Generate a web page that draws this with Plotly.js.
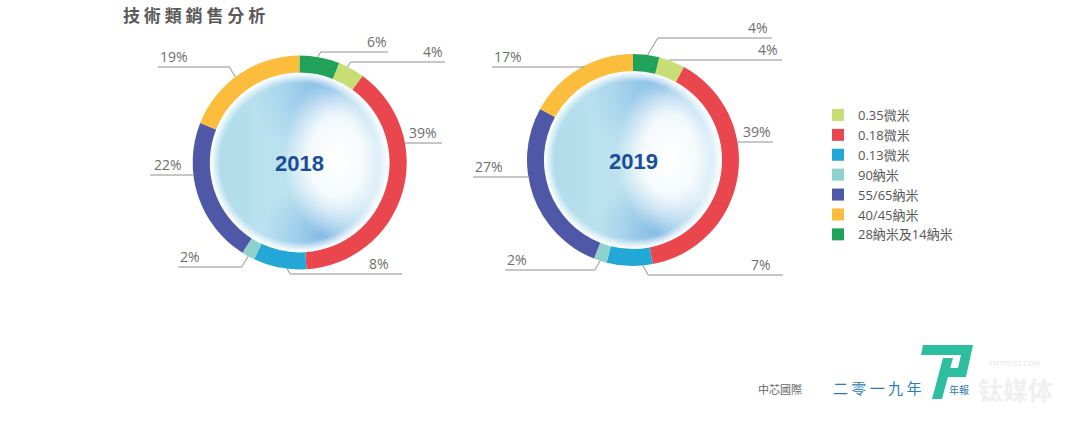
<!DOCTYPE html>
<html><head><meta charset="utf-8">
<script src="https://cdn.plot.ly/plotly-3.0.1.min.js"></script>
<style>html,body{margin:0;padding:0;background:#fff}#chart{width:1080px;height:424px}</style>
</head><body><div id="chart"></div>
<script>
// ---------- data ----------
const categories = ['0.35微米','0.18微米','0.13微米','90納米','55/65納米','40/45納米','28納米及14納米'];
const years = ['2018','2019'];
const share2018 = [4, 39, 8, 2, 22, 19, 6];
const share2019 = [4, 39, 7, 2, 27, 17, 4];

// ---------- style ----------
const sliceColors = ['#c6de74','#e9464d','#22a7d6','#8dd2cd','#4e58a7','#fbbd3b','#20a25b'];
const W = 1080, H = 424;
const HOLE = 0.84;
const px = x => x / W;
const py = y => 1 - y / H;

// label placement (per category, aligned with categories)
const pieLayouts = [
  { cx: 299.7, cy: 162.5, r: 107,
    side:    [1, 1, 1, -1, -1, -1, 1],
    lineY:   [62, 143, 274, 267, 175, 67, 52],
    lineEnd: [445, 442, 402, 178, 150, 158, 388],
    textX:   [445, 439, 391, 178, 152, 158, 389],
    at:      [0.35, 0.31, 0.36, 0.5, 0.64, 0.46, 0.45] },
  { cx: 633, cy: 160, r: 106,
    side:    [1, 1, 1, -1, -1, -1, 1],
    lineY:   [60, 142, 275, 270, 177, 67, 38],
    lineEnd: [782, 773, 783, 505, 473, 492, 772],
    textX:   [780, 773, 773, 505, 473, 492, 770],
    at:      [0.38, 0.37, 0.22, 0.5, 0.61, 0.55, 0.55] }
];
const seriesByYear = [share2018, share2019];

const data = [], shapes = [], annotations = [], images = [];

const sphereSvg =
 "<svg xmlns='http://www.w3.org/2000/svg' width='200' height='200' viewBox='0 0 200 200'>" +
 "<defs>" +
 "<linearGradient id='b' x1='0' y1='0' x2='1' y2='0'><stop offset='0' stop-color='#aedbea'/><stop offset='0.45' stop-color='#bfe3f0'/><stop offset='1' stop-color='#d3eaf6'/></linearGradient>" +
 "<radialGradient id='h' cx='0.7' cy='0.47' r='0.36' gradientTransform='translate(0.7 0.47) scale(0.8 1.25) translate(-0.7 -0.47)'><stop offset='0' stop-color='#ffffff'/><stop offset='0.5' stop-color='#ffffff' stop-opacity='0.85'/><stop offset='1' stop-color='#ffffff' stop-opacity='0'/></radialGradient>" +
 "<radialGradient id='t' cx='0.66' cy='0.1' r='0.42'><stop offset='0' stop-color='#5fa6e0' stop-opacity='0.75'/><stop offset='0.5' stop-color='#77b4e4' stop-opacity='0.4'/><stop offset='1' stop-color='#8cc1e8' stop-opacity='0'/></radialGradient>" +
 "<radialGradient id='d' cx='0.62' cy='0.9' r='0.32'><stop offset='0' stop-color='#5aa0dd' stop-opacity='0.6'/><stop offset='1' stop-color='#6aaae0' stop-opacity='0'/></radialGradient>" +
 "<radialGradient id='w' cx='0.5' cy='0.5' r='0.5'><stop offset='0.88' stop-color='#ffffff' stop-opacity='0'/><stop offset='0.97' stop-color='#ffffff' stop-opacity='0.85'/><stop offset='1' stop-color='#ffffff' stop-opacity='1'/></radialGradient>" +
 "<clipPath id='c'><circle cx='100' cy='100' r='100'/></clipPath>" +
 "</defs><g clip-path='url(#c)'>" +
 "<rect width='200' height='200' fill='url(#b)'/>" +
 "<rect width='200' height='200' fill='url(#t)'/>" +
 "<rect width='200' height='200' fill='url(#d)'/>" +
 "<rect width='200' height='200' fill='url(#h)'/>" +
 "<rect width='200' height='200' fill='url(#w)'/>" +
 "</g></svg>";
const sphereUri = 'data:image/svg+xml;charset=utf-8,' + encodeURIComponent(sphereSvg);

pieLayouts.forEach((g, k) => {
  const vals = seriesByYear[k];
  const total = vals.reduce((a, b) => a + b, 0);
  const last = vals[vals.length - 1];
  const rotation = 360 * last / total;   // last category starts at 12 o'clock
  data.push({
    type: 'pie', name: years[k], labels: categories, values: vals,
    sort: false, direction: 'clockwise', rotation: rotation, hole: HOLE,
    marker: { colors: sliceColors, line: { width: 0 } },
    textinfo: 'none', hoverinfo: 'label+value',
    showlegend: k === 0,
    domain: { x: [px(g.cx - g.r), px(g.cx + g.r)], y: [py(g.cy + g.r), py(g.cy - g.r)] }
  });

  const ri = g.r * HOLE + 0.5;
  images.push({ source: sphereUri, xref: 'paper', yref: 'paper',
    x: px(g.cx - ri), y: py(g.cy - ri), sizex: 2 * ri / W, sizey: 2 * ri / H,
    xanchor: 'left', yanchor: 'top', sizing: 'stretch', layer: 'below' });

  annotations.push({ text: '<b>' + years[k] + '</b>', x: px(g.cx), y: py(g.cy + 1),
    xref: 'paper', yref: 'paper', showarrow: false, xanchor: 'center', yanchor: 'middle',
    font: { family: 'Liberation Sans Narrow, Arial Narrow, Liberation Sans, sans-serif', size: 22, color: '#1b4e98' } });

  let cum = 0;
  vals.forEach((v, i) => {
    const startDeg = rotation + 360 * cum / total;
    const endDeg = startDeg + 360 * v / total;
    cum += v;
    const a = (startDeg + g.at[i] * (endDeg - startDeg)) * Math.PI / 180;
    const ax = g.cx + g.r * Math.sin(a), ay = g.cy - g.r * Math.cos(a);
    const ly = g.lineY[i];
    const ex = ax + g.side[i] * 0.6 * Math.abs(ly - ay);
    shapes.push({ type: 'path', xref: 'paper', yref: 'paper',
      path: `M${px(ax)},${py(ay)} L${px(ex)},${py(ly)} L${px(g.lineEnd[i])},${py(ly)}`,
      line: { color: '#8f8f8f', width: 1 } });
    annotations.push({ text: v + '%', x: px(g.textX[i]), y: py(ly + 1),
      xref: 'paper', yref: 'paper', showarrow: false,
      xanchor: g.side[i] > 0 ? 'right' : 'left', yanchor: 'bottom',
      font: { family: 'Open Sans, sans-serif', size: 14, color: '#6e6e6e' } });
  });
});

// footer
annotations.push({ text: '中芯國際', x: px(756), y: py(389), xref: 'paper', yref: 'paper',
  showarrow: false, xanchor: 'left', yanchor: 'middle',
  font: { family: 'Noto Sans CJK TC', size: 11, color: '#666' } });
annotations.push({ text: '二 零 一 九 年', x: px(831), y: py(387), xref: 'paper', yref: 'paper',
  showarrow: false, xanchor: 'left', yanchor: 'middle',
  font: { family: 'Noto Sans CJK TC', size: 15, color: '#2b7db5' } });
annotations.push({ text: 'TMTPOST.COM', x: px(1014), y: py(364), xref: 'paper', yref: 'paper',
  showarrow: false, xanchor: 'center', yanchor: 'middle',
  font: { family: 'DejaVu Sans', size: 7, color: '#e6e6e6' } });
annotations.push({ text: '<b>钛媒体</b>', x: px(1015), y: py(389), xref: 'paper', yref: 'paper',
  showarrow: false, xanchor: 'center', yanchor: 'middle',
  font: { family: 'Noto Sans CJK SC', size: 25, color: '#f0f0f0' } });
annotations.push({ text: '年報', x: px(947), y: py(389), xref: 'paper', yref: 'paper',
  showarrow: false, xanchor: 'left', yanchor: 'middle',
  font: { family: 'Noto Sans CJK TC', size: 10, color: '#2b7db5' } });
const P = (x, y) => `${px(x)},${py(y)}`;
shapes.push({ type: 'path', xref: 'paper', yref: 'paper', layer: 'above',
  path: `M${P(923,345)} L${P(973,345)} L${P(966,377)} L${P(944,377)} L${P(946,368)} L${P(958,368)} L${P(961,355)} L${P(921,355)} Z`,
  fillcolor: '#2dbd9f', line: { width: 0 } });
shapes.push({ type: 'path', xref: 'paper', yref: 'paper', layer: 'above',
  path: `M${P(943,358)} L${P(953,358)} L${P(942,399)} L${P(932,399)} Z`,
  fillcolor: '#2dbd9f', line: { width: 0 } });

const layout = {
  width: W, height: H, margin: { l: 0, r: 0, t: 0, b: 0 },
  paper_bgcolor: '#ffffff',
  title: { text: '<b>技 術 類 銷 售 分 析</b>', xref: 'container', yref: 'container',
    x: px(123), xanchor: 'left', y: py(16), yanchor: 'middle',
    font: { family: 'Noto Sans CJK TC', size: 17, color: '#5a5a5a' } },
  showlegend: true,
  legend: { x: px(818), xanchor: 'left', y: py(100), yanchor: 'top',
    font: { family: 'Open Sans, Noto Sans CJK TC', size: 13, color: '#555' },
    itemclick: false, itemdoubleclick: false },
  shapes: shapes, annotations: annotations, images: images
};
Plotly.newPlot('chart', data, layout, { staticPlot: true });
</script></body></html>
